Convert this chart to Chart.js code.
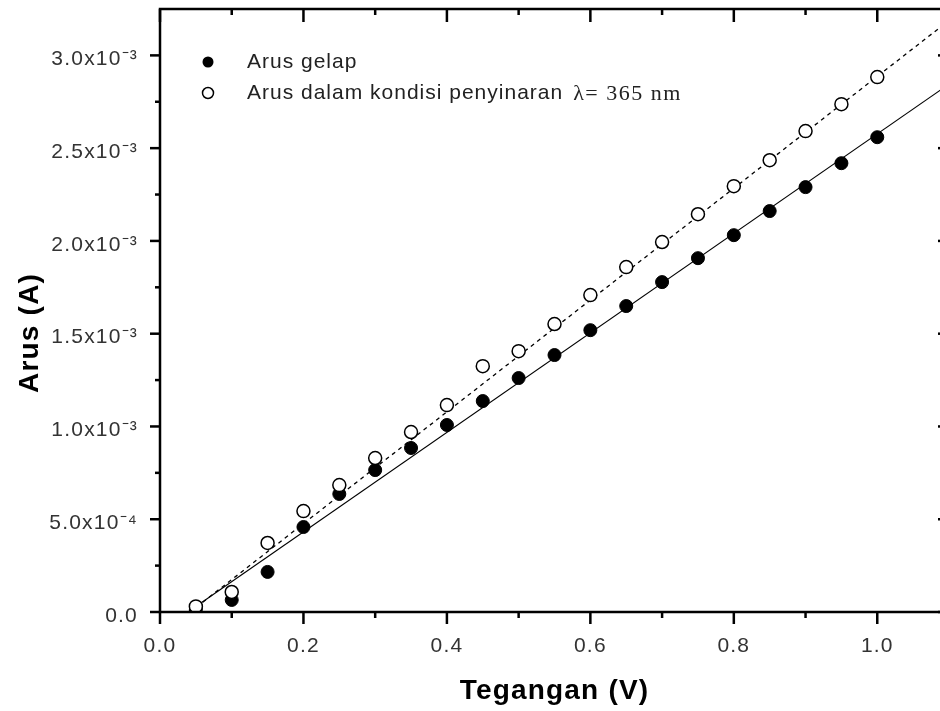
<!DOCTYPE html>
<html>
<head>
<meta charset="utf-8">
<script src="https://cdn.jsdelivr.net/npm/chart.js@4.4.0/dist/chart.umd.min.js"></script>
<style>
  html, body { margin: 0; padding: 0; background: #fff; overflow: hidden; }
  #wrap { position: relative; width: 960px; height: 711px; }
</style>
</head>
<body>
<div id="wrap"><canvas id="grafico"></canvas></div>
<script>
// tegangan (V) dan arus (A)
const tegangan = [0.05, 0.10, 0.15, 0.20, 0.25, 0.30, 0.35, 0.40, 0.45, 0.50,
                  0.55, 0.60, 0.65, 0.70, 0.75, 0.80, 0.85, 0.90, 0.95, 1.00];
const arusGelap = [0.015e-3, 0.065e-3, 0.216e-3, 0.458e-3, 0.636e-3, 0.765e-3, 0.884e-3, 1.008e-3, 1.137e-3, 1.261e-3,
                   1.385e-3, 1.519e-3, 1.649e-3, 1.778e-3, 1.907e-3, 2.031e-3, 2.161e-3, 2.290e-3, 2.419e-3, 2.559e-3];
const arusSinar = [0.030e-3, 0.108e-3, 0.372e-3, 0.544e-3, 0.684e-3, 0.830e-3, 0.970e-3, 1.115e-3, 1.325e-3, 1.406e-3,
                   1.552e-3, 1.708e-3, 1.859e-3, 1.994e-3, 2.144e-3, 2.295e-3, 2.435e-3, 2.592e-3, 2.737e-3, 2.883e-3];

// garis fit (ujung-ujung)
const fitGelapX = [0.039, 1.1];
const fitGelapY = [0, 2.845e-3];
const fitSinarX = [0.042, 1.1];
const fitSinarY = [0, 3.188e-3];

const xTicks = [0, 0.2, 0.4, 0.6, 0.8, 1.0];
const xTickLabels = ['0.0', '0.2', '0.4', '0.6', '0.8', '1.0'];
const xMinor = [0.1, 0.3, 0.5, 0.7, 0.9];
const yTicks = [0, 0.5e-3, 1.0e-3, 1.5e-3, 2.0e-3, 2.5e-3, 3.0e-3];
const yTickLabels = ['0.0', '5.0x10⁻⁴', '1.0x10⁻³', '1.5x10⁻³', '2.0x10⁻³', '2.5x10⁻³', '3.0x10⁻³'];
const yMinor = [0.25e-3, 0.75e-3, 1.25e-3, 1.75e-3, 2.25e-3, 2.75e-3];

const legendLabels = ['Arus gelap', 'Arus dalam kondisi penyinaran'];
const legendLambda = 'λ= 365 nm';

const puntos = function(ys) {
  return tegangan.map(function(t, i) { return {x: t, y: ys[i]}; });
};
const garis = function(xs, ys) {
  return xs.map(function(v, i) { return {x: v, y: ys[i]}; });
};

const ejes = {
  id: 'ejes',
  beforeDraw(chart) {
    chart.ctx.letterSpacing = '1.2px';
  },
  afterDraw(chart) {
    const ctx = chart.ctx;
    const a = chart.chartArea;
    const x = chart.scales.x, y = chart.scales.y;
    ctx.save();
    ctx.letterSpacing = '0px';
    ctx.strokeStyle = '#000';
    ctx.lineWidth = 2.5;
    ctx.beginPath();
    ctx.moveTo(a.left, a.top);
    ctx.lineTo(a.left, a.bottom);
    ctx.lineTo(a.right, a.bottom);
    ctx.lineTo(a.right, a.top);
    ctx.closePath();
    ctx.stroke();
    const tick = function(x1, y1, x2, y2) {
      ctx.beginPath(); ctx.moveTo(x1, y1); ctx.lineTo(x2, y2); ctx.stroke();
    };
    xTicks.forEach(function(v) {
      const px = x.getPixelForValue(v);
      tick(px, a.bottom, px, a.bottom + 12);
      tick(px, a.top, px, a.top + 13);
    });
    xMinor.forEach(function(v) {
      const px = x.getPixelForValue(v);
      tick(px, a.bottom, px, a.bottom + 6);
      tick(px, a.top, px, a.top + 6);
    });
    yTicks.forEach(function(v) {
      const py = y.getPixelForValue(v);
      tick(a.left - 10, py, a.left, py);
      tick(a.right, py, a.right - 11, py);
    });
    yMinor.forEach(function(v) {
      const py = y.getPixelForValue(v);
      tick(a.left - 5, py, a.left, py);
      tick(a.right, py, a.right - 6, py);
    });
    ctx.restore();
  }
};

const leyenda = {
  id: 'leyenda',
  afterDraw(chart) {
    const ctx = chart.ctx;
    const a = chart.chartArea;
    const mx = a.left + 48, tx = a.left + 87;
    const y1 = a.top + 53, y2 = a.top + 84;
    ctx.save();
    ctx.beginPath();
    ctx.arc(mx, y1, 5.5, 0, Math.PI * 2);
    ctx.fillStyle = '#000';
    ctx.fill();
    ctx.beginPath();
    ctx.arc(mx, y2, 5.5, 0, Math.PI * 2);
    ctx.fillStyle = '#fff';
    ctx.fill();
    ctx.lineWidth = 1.5;
    ctx.strokeStyle = '#000';
    ctx.stroke();
    ctx.letterSpacing = '1px';
    ctx.font = '21px "Liberation Sans", Arial, sans-serif';
    ctx.fillStyle = '#222';
    ctx.textBaseline = 'middle';
    ctx.fillText(legendLabels[0], tx, y1);
    ctx.fillText(legendLabels[1], tx, y2);
    const w = ctx.measureText(legendLabels[1]).width;
    ctx.letterSpacing = '1.5px';
    ctx.font = '22px "Liberation Serif", "Times New Roman", serif';
    ctx.fillText(legendLambda, tx + w + 10, y2 + 1);
    ctx.restore();
  }
};

const ctx = document.querySelector('#grafico');
const grafik = new Chart(ctx, {
  type: 'scatter',
  data: {
    datasets: [
      {
        label: legendLabels[1],
        data: puntos(arusSinar),
        pointRadius: 6.5,
        pointBackgroundColor: '#fff',
        pointBorderColor: '#000',
        pointBorderWidth: 1.5
      },
      {
        label: legendLabels[0],
        data: puntos(arusGelap),
        pointRadius: 6.5,
        pointBackgroundColor: '#000',
        pointBorderColor: '#000',
        pointBorderWidth: 1
      },
      {
        type: 'line',
        data: garis(fitSinarX, fitSinarY),
        borderColor: '#000',
        borderWidth: 1.3,
        borderDash: [4, 4],
        pointRadius: 0,
        fill: false
      },
      {
        type: 'line',
        data: garis(fitGelapX, fitGelapY),
        borderColor: '#000',
        borderWidth: 1.2,
        pointRadius: 0,
        fill: false
      }
    ]
  },
  options: {
    responsive: true,
    maintainAspectRatio: false,
    animation: false,
    events: [],
    layout: { padding: { top: 9, right: 11, left: 0, bottom: 0 } },
    plugins: { legend: { display: false }, tooltip: { enabled: false } },
    scales: {
      x: {
        type: 'linear',
        min: 0,
        max: 1.1,
        grid: { display: false },
        border: { display: false },
        afterBuildTicks: function(s) { s.ticks = xTicks.map(function(v) { return {value: v}; }); },
        afterFit: function(s) { s.height = 99; s.paddingLeft = 0; s.paddingRight = 0; },
        ticks: {
          autoSkip: false,
          maxRotation: 0,
          padding: 14,
          color: '#333',
          font: { family: '"Liberation Sans", Arial, sans-serif', size: 21 },
          callback: function(v, i) { return xTickLabels[i]; }
        },
        title: {
          display: true,
          text: 'Tegangan (V)',
          color: '#000',
          font: { family: '"Liberation Sans", Arial, sans-serif', size: 28, weight: 'bold' },
          padding: { top: 0, bottom: 3 }
        }
      },
      y: {
        type: 'linear',
        min: 0,
        max: 3.25e-3,
        grid: { display: false },
        border: { display: false },
        afterBuildTicks: function(s) { s.ticks = yTicks.map(function(v) { return {value: v}; }); },
        afterFit: function(s) { s.width = 160; s.paddingTop = 0; s.paddingBottom = 0; },
        ticks: {
          autoSkip: false,
          padding: 14,
          labelOffset: 4,
          color: '#333',
          font: { family: '"Liberation Sans", Arial, sans-serif', size: 21 },
          callback: function(v, i) { return yTickLabels[i]; }
        },
        title: {
          display: true,
          text: 'Arus (A)     ',
          color: '#000',
          font: { family: '"Liberation Sans", Arial, sans-serif', size: 28, weight: 'bold' },
          padding: { top: 13, bottom: 0 }
        }
      }
    }
  },
  plugins: [ejes, leyenda]
});
</script>
</body>
</html>
